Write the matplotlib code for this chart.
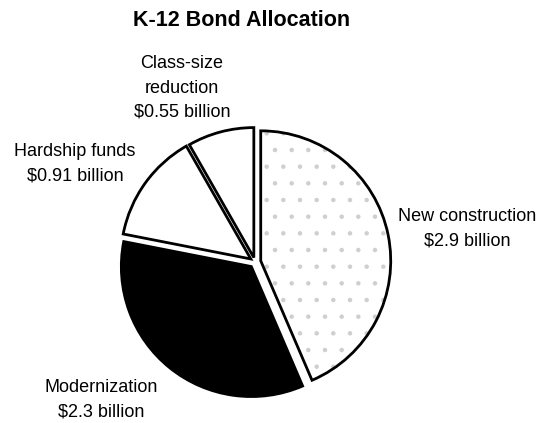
import matplotlib
matplotlib.use("Agg")
import matplotlib.pyplot as plt
import matplotlib.patches as patches

# data
categories = ["New construction", "Modernization", "Hardship funds", "Class-size\nreduction"]
amounts = [2.9, 2.3, 0.91, 0.55]
amount_text = ["$2.9 billion", "$2.3 billion", "$0.91 billion", "$0.55 billion"]

plt.rcParams["font.family"] = ["Liberation Sans", "DejaVu Sans"]
plt.rcParams["hatch.linewidth"] = 0.8

W, H = 551, 423
fig = plt.figure(figsize=(W / 100, H / 100), dpi=100)
ax = fig.add_axes([0, 0, 1, 1])

cx, cy, R = 255, H - 262, 130
explode_frac = [0.045, 0.045, 0.04, 0.035]
faces = ["white", "black", "white", "white"]

# pie explode is in data units here, so scale it by the radius
wedges, _ = ax.pie(amounts, startangle=90, counterclock=False,
                   explode=[e * R for e in explode_frac],
                   center=(cx, cy), radius=R, colors=faces,
                   wedgeprops=dict(edgecolor="black", linewidth=2.0))
ax.set_xlim(0, W)
ax.set_ylim(0, H)
ax.set_aspect("equal")
ax.axis("off")

# sparse stipple on the big slice
w0 = wedges[0]
z = w0.get_zorder()
ax.add_patch(patches.Wedge(w0.center, w0.r, w0.theta1, w0.theta2,
                           facecolor="white", linewidth=0, zorder=z + 0.1))
ax.add_patch(patches.Wedge(w0.center, w0.r, w0.theta1, w0.theta2,
                           facecolor="none", edgecolor="#cfcfcf", hatch=".",
                           linewidth=0, zorder=z + 0.2))
w0.set_facecolor("none")
w0.set_zorder(z + 0.3)

ax.text(242, H - 20, "K-12 Bond Allocation", ha="center", va="center",
        fontsize=15.5, fontweight="bold")

label_pos = [(467, 229), (101, 400), (75, 164), (182, 88)]
for name, amt, (lx, ly) in zip(categories, amount_text, label_pos):
    ax.text(lx, H - ly, f"{name}\n{amt}", ha="center", va="center",
            fontsize=13, linespacing=1.55)

fig.savefig("out.png", dpi=100, facecolor="white")
